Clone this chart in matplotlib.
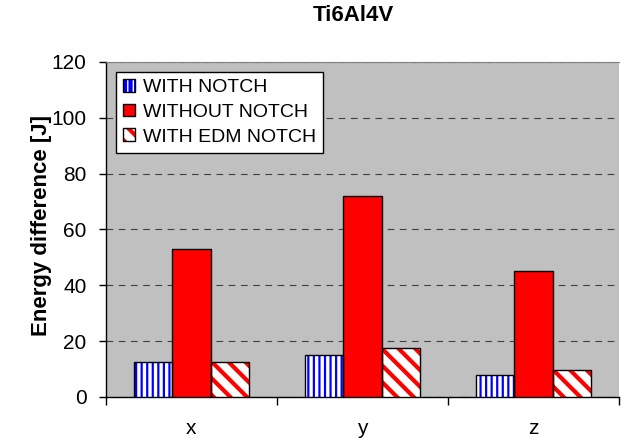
import numpy as np
import matplotlib
matplotlib.use('Agg')
import matplotlib.pyplot as plt
from matplotlib.legend_handler import HandlerTuple

plt.rcParams['font.family'] = ['Liberation Sans', 'DejaVu Sans']

categories = ['x', 'y', 'z']
with_notch = [12.6, 15.0, 7.8]
without_notch = [53.0, 72.0, 45.0]
with_edm_notch = [12.6, 17.5, 9.7]
series_names = ['WITH NOTCH', 'WITHOUT NOTCH', 'WITH EDM NOTCH']

fig = plt.figure(figsize=(6.25, 4.45), dpi=100)
ax = fig.add_axes([0.1696, 0.108, 0.8208, 0.753])
ax.set_facecolor('#c0c0c0')

x = np.arange(len(categories))
w = 0.225

# hatched fill first, black outline drawn on top
plt.rcParams['hatch.linewidth'] = 1.6
b1 = ax.bar(x - w, with_notch, w, color='white', edgecolor='#0000ff',
            hatch='|||', linewidth=0, zorder=3)
plt.rcParams['hatch.linewidth'] = 3.0
b3 = ax.bar(x + w, with_edm_notch, w, color='white', edgecolor='#ff0000',
            hatch='\\\\', linewidth=0, zorder=3)
b2 = ax.bar(x, without_notch, w, color='#ff0000', edgecolor='black',
            linewidth=1, zorder=3)
o1 = ax.bar(x - w, with_notch, w, color='none', edgecolor='black',
            linewidth=1, zorder=4)
o3 = ax.bar(x + w, with_edm_notch, w, color='none', edgecolor='black',
            linewidth=1, zorder=4)

ax.set_xlim(-0.5, 2.5)
ax.set_ylim(0, 120)
ax.set_yticks(np.arange(0, 121, 20))
ax.yaxis.grid(True, color='#404040', linestyle=(0, (6, 5)), linewidth=0.8)
ax.set_axisbelow(True)

ax.set_xticks(x)
ax.set_xticklabels(categories)
ax.set_xticks(np.arange(-0.5, 3, 1), minor=True)
ax.tick_params(axis='x', which='major', length=0, pad=16, labelsize=15)
ax.tick_params(axis='x', which='minor', length=6, width=1, direction='out')
ax.tick_params(axis='y', length=5, width=1, direction='out', labelsize=15, pad=9)

ax.spines['right'].set_visible(False)
ax.spines['top'].set_color('#808080')
ax.spines['top'].set_linewidth(0.8)
for s in ['left', 'bottom']:
    ax.spines[s].set_color('black')
    ax.spines[s].set_linewidth(1)

fig.text(42 / 625, 0.494, 'Energy difference [J]', rotation=90, ha='center', va='center',
         fontsize=16, fontweight='bold')
fig.text(0.566, 0.952, 'Ti6Al4V', ha='center', va='baseline', fontsize=16, fontweight='bold')

handles = [(b1[0], o1[0]), b2[0], (b3[0], o3[0])]
leg = ax.legend(handles, series_names, loc='upper left', bbox_to_anchor=(0.0195, 0.97),
                handler_map={tuple: HandlerTuple(ndivide=1)},
                fontsize=14, fancybox=False, framealpha=1, edgecolor='black',
                handlelength=0.62, handleheight=0.62, handletextpad=0.41,
                labelspacing=0.39, borderpad=0.36, borderaxespad=0)
leg.get_frame().set_linewidth(1)

fig.savefig('out.png', dpi=100)
